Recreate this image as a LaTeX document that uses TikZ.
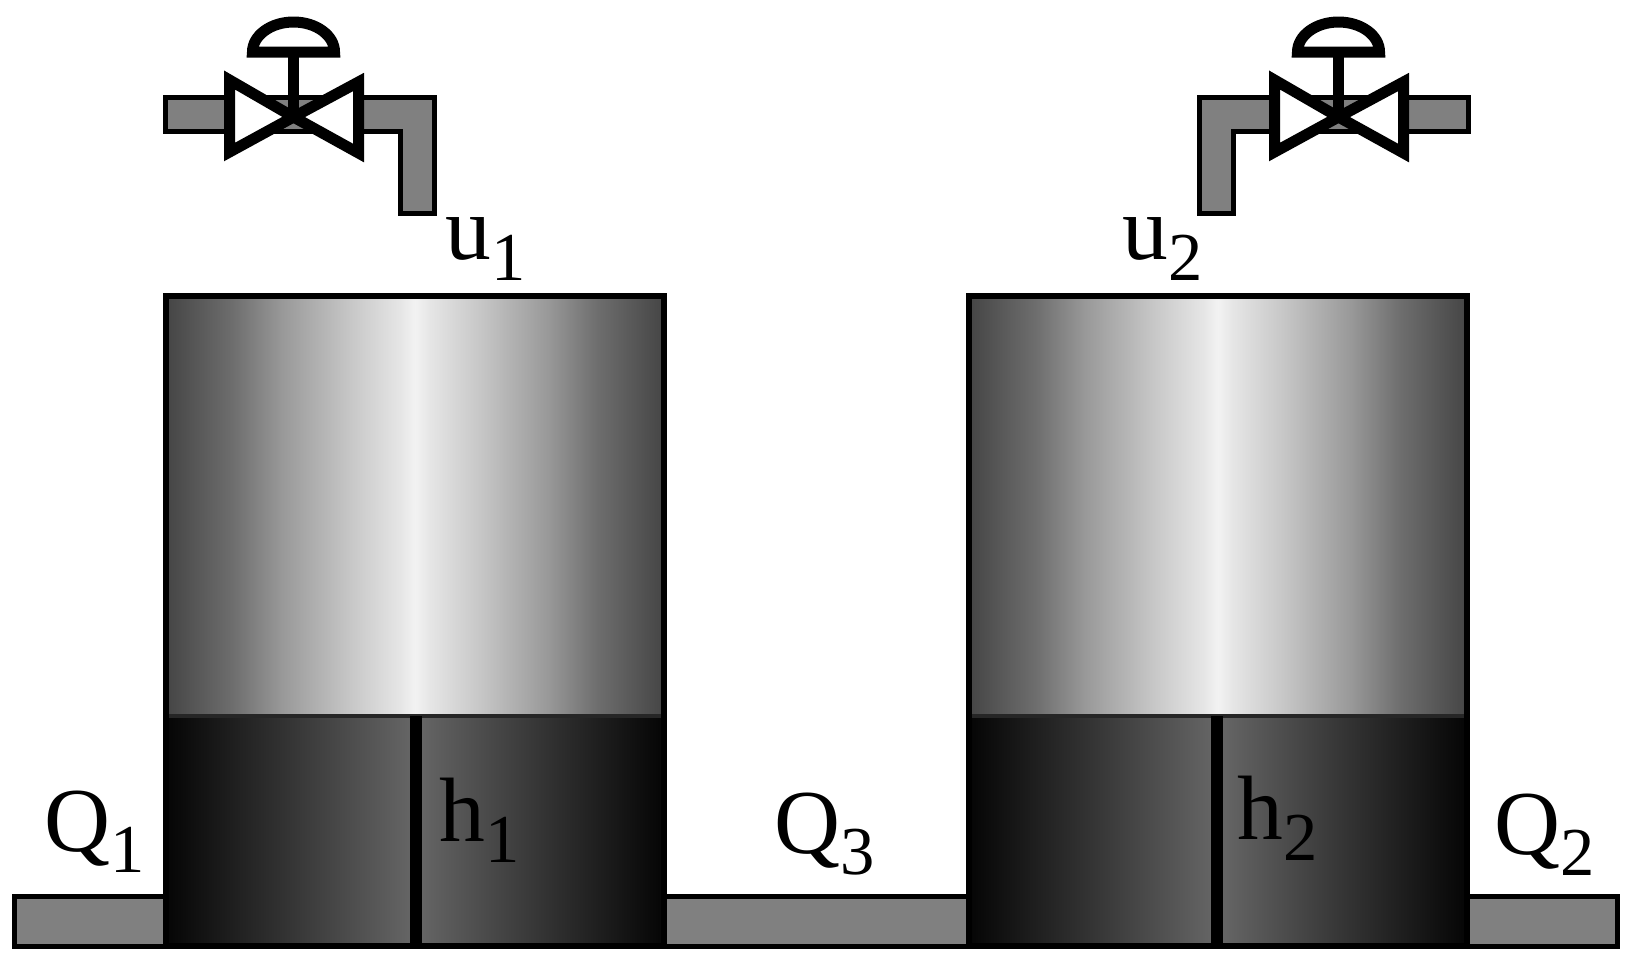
\documentclass[tikz,border=0pt]{standalone}
\usepackage{fontspec}
\setmainfont{Liberation Serif}
\usepackage{tikz}
\pgfdeclarehorizontalshading{tankupper}{100bp}{color(0bp)=(black!73); color(25bp)=(black!73); color(31.7bp)=(black!57); color(36.7bp)=(black!40); color(43.5bp)=(black!22); color(48.5bp)=(black!10); color(50bp)=(black!5); color(51.5bp)=(black!10); color(56.5bp)=(black!22); color(63.3bp)=(black!40); color(68.3bp)=(black!57); color(75bp)=(black!73); color(100bp)=(black!73)}
\pgfdeclarehorizontalshading{tanklower}{100bp}{color(0bp)=(black!98); color(25bp)=(black!98); color(37bp)=(black!80); color(49.8bp)=(black!60); color(50.2bp)=(black!60); color(63bp)=(black!80); color(75bp)=(black!98); color(100bp)=(black!98)}
\newcommand{\tanklabel}[2]{\fontsize{26}{26}\selectfont #1\raisebox{-6pt}{\fontsize{19.5}{19.5}\selectfont #2}}
\tikzset{
  pipe/.style={fill=black!50, draw=black, line width=0.05cm},
  valvepart/.style={fill=white, draw=black, line width=0.11cm, miter limit=20},
  wall/.style={draw=black, line width=0.06cm},
  lab/.style={anchor=base west, inner sep=0pt},
  valve/.pic={
    \draw[valvepart] (-64,-37) -- (0,0) -- (-64,35) -- cycle;
    \draw[valvepart] (65,-35) -- (0,0) -- (65,36) -- cycle;
    \draw[black, line width=0.11cm] (0,0) -- (0,-62);
    \draw[valvepart] (-41,-65) arc[start angle=180, end angle=360, x radius=41, y radius=30] -- cycle;
  }
}
\begin{document}
\begin{tikzpicture}[x=0.01cm, y=-0.01cm]
  \useasboundingbox (0,0) rectangle (1631,960);
  % Outlet pipe
  \draw[pipe] (14.5,896.5) rectangle (1617.5,946.5);
  % Inlet pipes
  \draw[pipe] (165.5,97.5) -- (434.5,97.5) -- (434.5,213.5) -- (400.5,213.5) -- (400.5,131) -- (165.5,131) -- cycle;
  \draw[pipe] (1468.5,97.5) -- (1199.5,97.5) -- (1199.5,213.5) -- (1233.5,213.5) -- (1233.5,131) -- (1468.5,131) -- cycle;
  % Valves
  \pic at (293.5,117) {valve};
  \pic at (1338.5,117) {valve};
  % Left tank
  \shade[shading=tankupper] (166,296) rectangle (664,716);
  \shade[shading=tanklower] (166,716) rectangle (664,946);
  \draw[black!85, line width=0.04cm] (166,716) -- (664,716);
  \draw[wall] (166,296) rectangle (664,946);
  \draw[black, line width=0.12cm] (416,716) -- (416,946);
  % Right tank
  \shade[shading=tankupper] (969,296) rectangle (1467,716);
  \shade[shading=tanklower] (969,716) rectangle (1467,946);
  \draw[black!85, line width=0.04cm] (969,716) -- (1467,716);
  \draw[wall] (969,296) rectangle (1467,946);
  \draw[black, line width=0.12cm] (1217,716) -- (1217,946);
  % Labels
  \node[lab] (u1) at (445,259) {\tanklabel{u}{1}};
  \node[lab] (u2) at (1122,259) {\tanklabel{u}{2}};
  \node[lab] (h1) at (439,841) {\tanklabel{h}{1}};
  \node[lab] (h2) at (1237,839) {\tanklabel{h}{2}};
  \node[lab] (Q1) at (44,851) {\tanklabel{Q}{1}};
  \node[lab] (Q3) at (774,853) {\tanklabel{Q}{3}};
  \node[lab] (Q2) at (1494,854) {\tanklabel{Q}{2}};
\end{tikzpicture}
\end{document}
